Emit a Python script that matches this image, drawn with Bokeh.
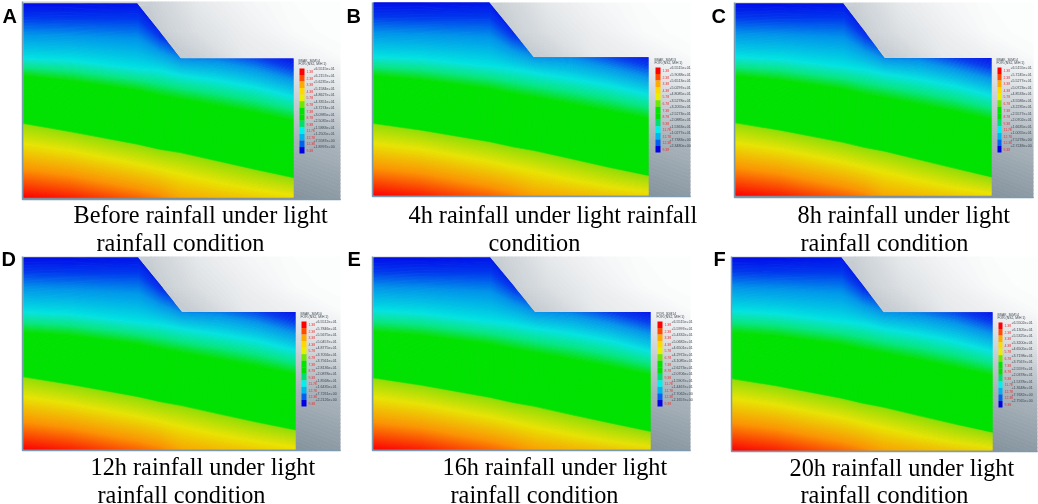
import numpy as np
from bokeh.core.properties import value
from bokeh.embed import file_html
from bokeh.plotting import figure
from bokeh.resources import INLINE

# panel letters and captions
letters = ["A", "B", "C", "D", "E", "F"]
captions = [
    ["Before rainfall under light", "rainfall condition"],
    ["4h rainfall under light rainfall", "condition"],
    ["8h rainfall under light", "rainfall condition"],
    ["12h rainfall under light", "rainfall condition"],
    ["16h rainfall under light", "rainfall condition"],
    ["20h rainfall under light", "rainfall condition"],
]

# slope section, % of model width / height
col_pct = [0, 17.3, 42.1, 50.2, 58.2, 71.8, 85.4, 100]
surface_pct = [0, 0, 0, 14.1, 28.4, 28.4, 28.4, 28.4]

# field value on the ground surface and along the base (0 = blue, 100 = red)
surface_z = [
    [2, 2, 3, 5, 14, 13, 9, 2],
    [2, 2, 3, 5, 15, 14, 9, 3],
    [2, 2, 3, 5, 14, 13, 8, 2],
    [2, 2, 3, 5, 14, 13, 9, 2],
    [2, 2, 3, 6, 15, 13, 8, 2],
    [2, 2, 3, 5, 15, 13, 9, 2],
]
base_z = [
    [100, 97, 90, 87, 82, 79, 76, 73],
    [100, 97, 90, 87, 83, 80, 77, 74],
    [100, 97, 90, 87, 82, 79, 76, 73],
    [100, 97, 90, 87, 82, 79, 76, 73],
    [100, 97, 90, 87, 83, 80, 77, 74],
    [100, 97, 90, 87, 83, 80, 77, 74],
]

# depth of the contours of value 25, 40, 60 and 72 at each column, % of height
iso_25 = [
    [28.4, 29.3, 33.6, 34.5, 37.1, 39.7, 43.1, 48.3],
    [28.2, 29.2, 33.0, 34.5, 36.5, 39.5, 43.0, 47.8],
    [28.0, 29.0, 33.0, 34.5, 36.8, 39.5, 43.0, 48.0],
    [28.4, 29.5, 33.8, 35.0, 37.3, 40.0, 43.3, 48.5],
    [27.6, 29.0, 33.5, 34.8, 37.0, 39.8, 43.5, 49.0],
    [27.6, 29.0, 33.2, 34.5, 37.0, 39.8, 43.5, 48.8],
]
iso_40 = [
    [37.1, 39.7, 44.5, 47.4, 49.1, 52.6, 56.0, 60.3],
    [37.7, 40.0, 44.5, 47.0, 49.0, 52.5, 56.0, 60.0],
    [37.5, 39.8, 44.5, 47.2, 49.0, 52.5, 56.0, 60.2],
    [38.8, 40.5, 45.0, 47.5, 49.5, 53.0, 56.5, 60.8],
    [38.5, 40.5, 45.0, 47.5, 49.5, 53.0, 56.8, 61.0],
    [38.8, 40.5, 45.0, 47.5, 49.5, 53.0, 56.8, 61.0],
]
iso_60 = [
    [61.7, 65.9, 72.4, 75.0, 76.7, 81.0, 85.3, 89.7],
    [62.5, 66.0, 72.0, 74.5, 76.5, 80.8, 85.2, 89.6],
    [62.0, 65.9, 72.2, 74.8, 76.8, 81.2, 85.6, 90.3],
    [62.0, 66.0, 72.4, 75.0, 77.0, 81.3, 85.5, 89.7],
    [62.6, 66.4, 72.8, 75.4, 77.4, 81.8, 86.1, 90.5],
    [62.6, 66.4, 72.8, 75.4, 77.4, 81.8, 86.1, 90.5],
]
iso_72 = [
    [72.4, 75.9, 82.8, 85.3, 87.9, 92.2, 95.7, 98.3],
    [73.0, 76.0, 82.5, 85.0, 87.5, 91.8, 95.5, 98.0],
    [72.6, 76.0, 82.6, 85.2, 87.8, 92.0, 95.8, 98.4],
    [72.6, 76.2, 82.8, 85.3, 87.9, 92.2, 95.7, 98.3],
    [73.0, 76.4, 83.0, 85.6, 88.2, 92.4, 96.0, 98.5],
    [73.0, 76.4, 83.0, 85.6, 88.2, 92.4, 96.0, 98.5],
]

# colour ramp of the field
ramp_z = [0, 8, 15, 25, 33, 40, 60, 60.8, 72, 85, 100]
ramp_r = [0, 0, 0, 0, 0, 0, 0, 150, 235, 255, 255]
ramp_g = [0, 55, 150, 228, 232, 226, 226, 224, 230, 150, 0]
ramp_b = [232, 238, 235, 225, 130, 0, 0, 0, 0, 0, 0]

# surroundings of the model: grey level over the image of each panel
bg_cols = [0, 0.4, 0.55, 0.7, 0.85, 1]
bg_rows = [0, 0.15, 0.28, 0.45, 0.7, 1]
bg_grey = [
    [205, 205, 232, 245, 252, 254],
    [198, 198, 222, 238, 250, 254],
    [195, 195, 205, 232, 240, 250],
    [190, 190, 190, 202, 210, 228],
    [165, 165, 165, 168, 172, 180],
    [132, 132, 132, 135, 140, 150],
]

# legend of each panel
bar_colors = ["#ff0000", "#ff4a00", "#ffaa00", "#ffd800", "#e8f000", "#6ee800", "#00e400", "#00e000",
              "#00e070", "#00f0f0", "#00b4f0", "#0060f0", "#0000e0"]
legend_head = [
    ["BSAK, 30M14", "FOR (NS2, M/H 1)"],
    ["BSAK, 30M13", "FOR (NS2, M/H 1)"],
    ["BSAK, 30M14", "FOR (NS2, M/H 1)"],
    ["BSAK, 30M10", "FOR (NS2, M/H 1)"],
    ["POR, 30M14", "FOR (NS2, M/H 1)"],
    ["BSAK, 30M14", "FOR (NS2, M/H 1)"],
]
legend_vals = [
    ["+6.5515e+01", "+6.2157e+01", "+5.6235e+01", "+5.1584e+01", "+4.8627e+01", "+4.3351e+01", "+3.7274e+01",
     "+3.0985e+01", "+2.5035e+01", "+1.5883e+01", "+1.2505e+01", "+7.5587e+00", "+1.8997e+00"],
    ["+6.5515e+01", "+5.9038e+01", "+5.6513e+01", "+5.0297e+01", "+4.8085e+01", "+3.5278e+01", "+3.2055e+01",
     "+2.5273e+01", "+2.0885e+01", "+1.5363e+01", "+1.0277e+01", "+7.7383e+00", "+2.3480e+00"],
    ["+6.5155e+01", "+5.7245e+01", "+5.5277e+01", "+5.0723e+01", "+4.8533e+01", "+3.5586e+01", "+3.2235e+01",
     "+2.5577e+01", "+2.0702e+01", "+1.6635e+01", "+1.0055e+01", "+7.5278e+00", "+2.7248e+00"],
    ["+6.5512e+01", "+5.7846e+01", "+5.5675e+01", "+5.0457e+01", "+4.8775e+01", "+3.7056e+01", "+3.7561e+01",
     "+2.8136e+01", "+2.0878e+01", "+1.8568e+01", "+1.6435e+01", "+7.7261e+00", "+2.2126e+00"],
    ["+6.5515e+01", "+5.5997e+01", "+5.4332e+01", "+5.0682e+01", "+4.6501e+01", "+4.2972e+01", "+3.1085e+01",
     "+2.6273e+01", "+2.0706e+01", "+1.5907e+01", "+1.4467e+01", "+7.7062e+00", "+2.1657e+00"],
    ["+6.5502e+01", "+6.1305e+01", "+5.5325e+01", "+5.3200e+01", "+4.6505e+01", "+3.7198e+01", "+3.7567e+01",
     "+2.5597e+01", "+2.0378e+01", "+1.5378e+01", "+1.3648e+01", "+7.7682e+00", "+2.7565e+00"],
]
legend_marks = ["1.38", "2.38", "3.38", "4.38", "5.78", "6.78", "7.38", "8.78", "9.38", "11.78", "12.78", "12.38", "9.38"]

# layout of the panels on the page, in pixels
frames = [(22, 340, 1, 199), (372, 690, 2, 196), (734, 1033, 2, 197),
          (22, 340, 256, 450), (372, 690, 256, 450), (731, 1037, 256, 451)]
fields = [(23, 293, 3, 197), (373, 648, 2, 195), (735, 991, 3, 195),
          (23, 295, 257, 449), (373, 650, 257, 449), (731, 992, 257, 450)]
bars = [(299, 304, 68, 153), (655, 660, 67, 152), (997, 1001, 67, 152),
        (301, 306, 321, 406), (657, 662, 321, 406), (998, 1002, 322, 407)]
letter_xy = [(2, 15), (346, 15), (711, 15), (1, 258), (347, 258), (713, 258)]
caption_xy = [[(73, 214), (96, 242)], [(408, 214), (488, 242)], [(797, 214), (800, 242)],
              [(90, 466), (97, 494)], [(442, 466), (450, 494)], [(789, 467), (800, 494)]]

p = figure(width=1038, height=504, x_range=(0, 1038), y_range=(504, 0), output_backend="svg",
           toolbar_location=None, min_border=0, outline_line_color=None,
           styles={"position": "fixed", "left": "0", "top": "0"})
p.axis.visible = False
p.grid.visible = False

# field levels and the same levels moved half a step, drawn below to hide the seams
levels = np.linspace(-1, 101, 205)
under_levels = np.linspace(-1.25, 101.25, 206)


def ramp(z):
    r = np.interp(z, ramp_z, ramp_r)
    g = np.interp(z, ramp_z, ramp_g)
    b = np.interp(z, ramp_z, ramp_b)
    return ["#%02x%02x%02x" % (int(a), int(c), int(d)) for a, c, d in zip(r, g, b)]


# greys lean to blue, more so the darker they are
def grey_hex(g):
    t = (256 - g) / 128
    return "#%02x%02x%02x" % (int(g - 10 * t), int(min(g + 6 * t, 255)), int(min(g + 18 * t, 255)))


grey_levels = np.linspace(128, 256, 65)
grey_mids = (grey_levels[:-1] + grey_levels[1:]) / 2
grey_fill = [grey_hex(g) for g in grey_mids]
grey_line = [grey_hex(g) for g in grey_levels]

for i in range(6):
    fx0, fx1, fy0, fy1 = frames[i]
    # surroundings
    p.contour(fx0 + np.array(bg_cols) * (fx1 - fx0), fy0 + np.array(bg_rows) * (fy1 - fy0), np.array(bg_grey, float),
              grey_levels, fill_color=grey_fill, line_color=grey_line, line_width=1)

    # field: grid rows follow the surface, the contours and the base
    x0, x1, y0, y1 = fields[i]
    xs = x0 + np.array(col_pct) / 100 * (x1 - x0)
    rows = [surface_pct, iso_25[i], iso_40[i], iso_60[i], iso_72[i], [100] * 8]
    ys = y0 + np.array(rows, float) / 100 * (y1 - y0)
    xx = np.tile(xs, (len(rows), 1))
    zz = np.array([surface_z[i], [25] * 8, [40] * 8, [60] * 8, [72] * 8, base_z[i]], float)
    for lv in (under_levels, levels):
        p.contour(xx, ys, zz, lv, fill_color=ramp((lv[:-1] + lv[1:]) / 2), line_color=None)

    # frame
    p.line([fx0, fx0, fx1], [fy0, fy1, fy1], line_color="#7d9bb0", line_width=1.5)

    # legend
    bx0, bx1, by0, by1 = bars[i]
    n = len(bar_colors)
    edges = np.linspace(by0, by1, n + 1)
    p.quad(left=bx0, right=bx1, top=edges[:-1], bottom=edges[1:], fill_color=bar_colors, line_color=None)
    p.text(x=[bx1 + 9] * n, y=edges[:-1], text=legend_vals[i][:n], text_font=value("Liberation Sans"),
           text_font_size="3.6px", text_color="#3c4650", text_baseline="middle")
    p.text(x=[bx1 + 2] * n, y=(edges[:-1] + edges[1:]) / 2, text=legend_marks[:n],
           text_font=value("Liberation Sans"), text_font_size="3.4px", text_color="#ee3030", text_baseline="middle")
    p.text(x=[bx0 - 1, bx0 - 1], y=[by0 - 8, by0 - 5], text=legend_head[i], text_font=value("Liberation Sans"),
           text_font_size="3.4px", text_color="#3c4650", text_baseline="middle")

    # letter and caption
    p.text(x=[letter_xy[i][0]], y=[letter_xy[i][1]], text=[letters[i]], text_font=value("Liberation Sans"),
           text_font_style="bold", text_font_size="20px", text_color="black", text_baseline="middle")
    p.text(x=[c[0] for c in caption_xy[i]], y=[c[1] for c in caption_xy[i]], text=captions[i],
           text_font=value("Liberation Serif"), text_font_size="24.3px", text_color="black", text_baseline="middle")

open("out.html", "w").write(file_html(p, INLINE))
